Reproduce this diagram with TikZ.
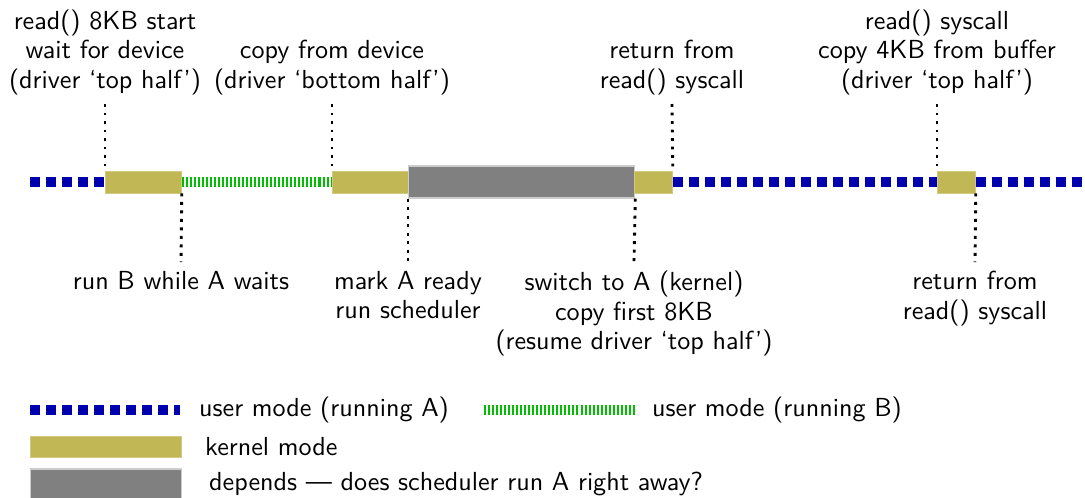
\documentclass[tikz,border=0pt]{standalone}
\usetikzlibrary{positioning}
\definecolor{userBlue}{RGB}{0,0,175}
\definecolor{userGreen}{RGB}{0,190,0}
\definecolor{kernelKhaki}{RGB}{193,184,85}
\definecolor{dependsGray}{RGB}{128,128,128}
\newcommand{\pxl}{0.383pt}

\begin{document}
\begin{tikzpicture}[
  x=\pxl, y=-\pxl,
  lbl/.style={align=center, font=\linespread{0.94}\selectfont\sffamily},
  key/.style={anchor=west, font=\sffamily},
  kernel/.style={fill=kernelKhaki, draw=kernelKhaki!75!white, line width=0.3pt,
                 inner sep=0pt, anchor=west, minimum height=22*\pxl},
  depends/.style={fill=dependsGray, draw=black!20, line width=0.5pt,
                  inner sep=0pt, anchor=west, minimum height=32*\pxl},
  runa/.style={userBlue, line width=3.83pt, dash pattern=on 3.83pt off 2.3pt},
  runb/.style={userGreen, line width=3.83pt, dash pattern=on 0.77pt off 0.77pt},
  marker/.style={line width=1.1pt, dash pattern=on 1.1pt off 2.16pt}
]
\useasboundingbox (0,0) rectangle (1085,497);

% timeline
\coordinate (start) at (30,182);
\coordinate (finish) at (1085,182);
\node[kernel, minimum width=76*\pxl] (k1) at (105,182) {};
\node[kernel, minimum width=76*\pxl] (k2) at (332,182) {};
\node[depends, minimum width=226*\pxl] (sched) at (408,182) {};
\node[kernel, minimum width=38*\pxl] (k3) at (634,182) {};
\node[kernel, minimum width=38*\pxl] (k4) at (937,182) {};
\draw[runa] (start) -- (k1.west);
\draw[runb] (k1.east) -- (k2.west);
\draw[runa] (k3.east) -- (k4.west);
\draw[runa] (k4.east) -- (finish);

% labels above
\node[lbl, anchor=south] (t1) at (105,104) {read() 8KB start\\wait for device\\(driver `top half')};
\node[lbl, anchor=south] (t2) at (332,104) {copy from device\\(driver `bottom half')};
\node[lbl, anchor=south] (t3) at (672,104) {return from\\read() syscall};
\node[lbl, anchor=south] (t4) at (937,104) {read() syscall\\copy 4KB from buffer\\(driver `top half')};
\draw[marker] (t1.south) -- (k1.north west);
\draw[marker] (t2.south) -- (k2.north west);
\draw[marker] (t3.south) -- (k3.north east);
\draw[marker] (t4.south) -- (k4.north west);

% labels below
\node[lbl, anchor=north] (b1) at (181,262) {run B while A waits};
\node[lbl, anchor=north] (b2) at (408,262) {mark A ready\\run scheduler};
\node[lbl, anchor=north] (b3) at (634,262) {switch to A (kernel)\\copy first 8KB\\(resume driver `top half')};
\node[lbl, anchor=north] (b4) at (975,262) {return from\\read() syscall};
\draw[marker] (k1.south east) -- (b1.north);
\draw[marker] (sched.south west) -- (b2.north);
\draw[marker] (sched.south east) -- (b3.north);
\draw[marker] (k4.south east) -- (b4.north);

% legend
\coordinate (la1) at (30,409.5);
\coordinate (la2) at (180,409.5);
\coordinate (lb1) at (484,409.5);
\coordinate (lb2) at (635,409.5);
\draw[runa] (la1) -- (la2);
\draw[runb] (lb1) -- (lb2);
\node[key] (keya) at (190,409.5) {user mode (running A)};
\node[key] (keyb) at (643,409.5) {user mode (running B)};
\node[kernel, minimum width=151*\pxl, minimum height=21*\pxl] (legk) at (30,446.5) {};
\node[key] (keyk) at (196,446.5) {kernel mode};
\node[depends, minimum width=151*\pxl, minimum height=30*\pxl] (legd) at (30,484) {};
\node[key] (keyd) at (200,484) {depends --- does scheduler run A right away?};
\end{tikzpicture}
\end{document}
